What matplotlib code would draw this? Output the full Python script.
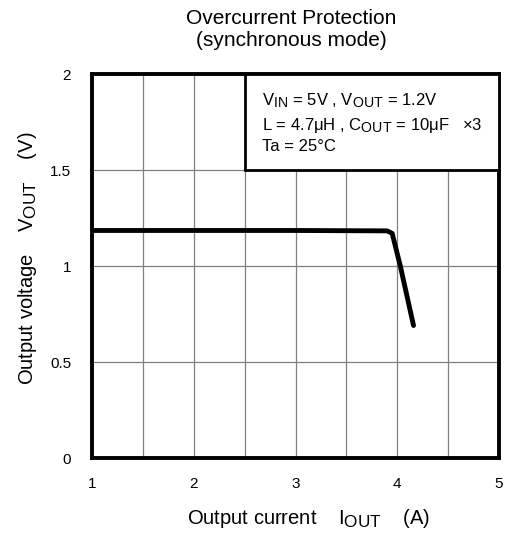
import matplotlib
matplotlib.use('Agg')

import numpy as np
import matplotlib.pyplot as plt
import matplotlib._mathtext as mt

plt.rcParams['font.family'] = ['Liberation Sans', 'DejaVu Sans']
plt.rcParams['mathtext.fontset'] = 'custom'
plt.rcParams['mathtext.rm'] = 'Liberation Sans'
plt.rcParams['mathtext.it'] = 'Liberation Sans'
mt.SHRINK_FACTOR = 0.85  # subscripts in the original are almost full size

# data
i_out = [1.0, 2.0, 3.0, 3.9, 3.95, 4.03, 4.16]
v_out = [1.185, 1.185, 1.185, 1.183, 1.17, 1.0, 0.69]

x_ticks = [1, 1.5, 2, 2.5, 3, 3.5, 4, 4.5, 5]
x_tick_labels = ['1', '', '2', '', '3', '', '4', '', '5']
y_ticks = [0, 0.5, 1, 1.5, 2]
y_tick_labels = ['0', '0.5', '1', '1.5', '2']

fig = plt.figure(figsize=(5.11, 5.37), dpi=100)
ax = fig.add_axes([92/511, 1 - 458/537, 407/511, 384/537])

ax.plot(i_out, v_out, color='black', lw=3.5, solid_capstyle='round', solid_joinstyle='round', zorder=3)

ax.set_xlim(1, 5)
ax.set_ylim(0, 2)
ax.set_xticks(x_ticks)
ax.set_xticklabels(x_tick_labels)
ax.set_yticks(y_ticks)
ax.set_yticklabels(y_tick_labels)
ax.tick_params(length=0, labelsize=11)
ax.tick_params(axis='x', pad=14)
ax.tick_params(axis='y', pad=15)
ax.grid(True, color='#808080', lw=0.9)
for s in ax.spines.values():
    s.set_linewidth(2.8)

fig.text(309/511, 1 - 518/537, r'Output current    I$_{\mathrm{OUT}}$    (A)',
         fontsize=14.5, ha='center', va='center')
fig.text(28/511, 1 - 258/537, r'Output voltage    V$_{\mathrm{OUT}}$    (V)',
         fontsize=14.5, ha='center', va='center', rotation=90)

fig.text(291/511, 1 - 18/537, 'Overcurrent Protection', ha='center', va='center', fontsize=15)
fig.text(291/511, 1 - 41/537, '(synchronous mode)', ha='center', va='center', fontsize=15)

# condition box
box = plt.Rectangle((2.5, 1.5), 2.5, 0.5, transform=ax.transData, fill=True,
                    facecolor='white', edgecolor='black', lw=2.0, zorder=4)
ax.add_patch(box)
cond = (r'V$_{\mathrm{IN}}$ = 5V , V$_{\mathrm{OUT}}$ = 1.2V' + '\n'
        r'L = 4.7$\mathrm{\mu}$H , C$_{\mathrm{OUT}}$ = 10$\mathrm{\mu}$F   $\times$3' + '\n'
        'Ta = 25°C')
ax.text(2.67, 1.91, cond, fontsize=12, va='top', ha='left', linespacing=1.4, zorder=5)

fig.savefig('out.png', dpi=100)
plt.close()
